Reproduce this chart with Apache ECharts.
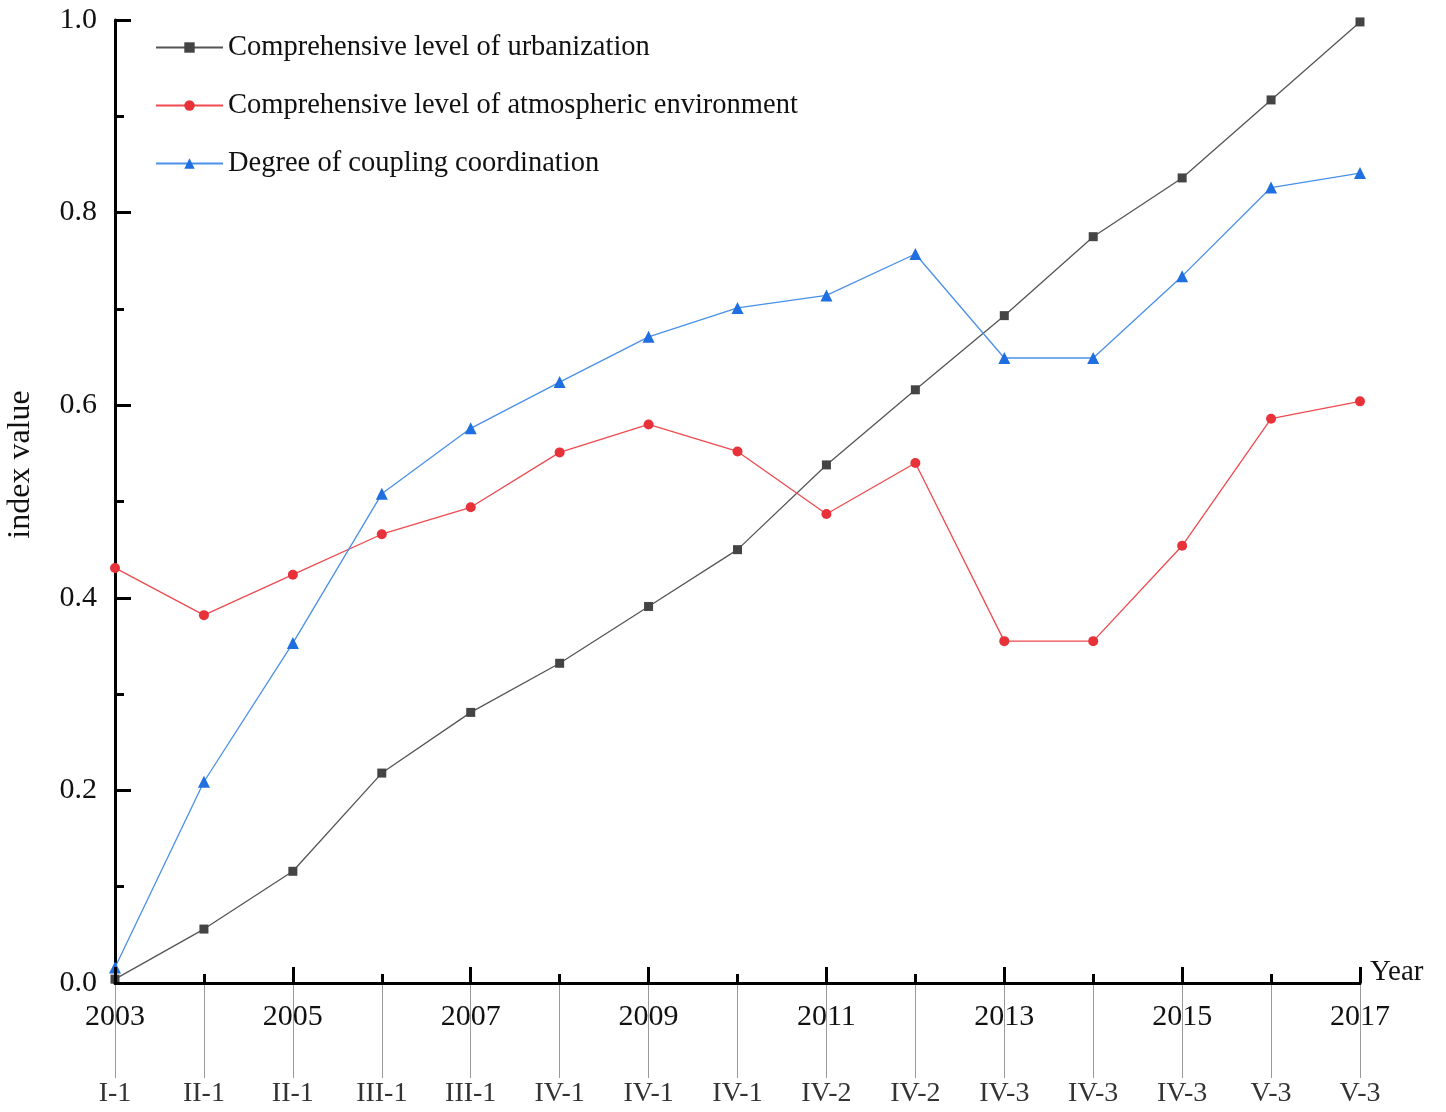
<!DOCTYPE html>
<html>
<head>
<meta charset="utf-8">
<script src="https://cdn.jsdelivr.net/npm/echarts@6/dist/echarts.min.js"></script>
<style>
  html, body { margin: 0; padding: 0; background: #fff; }
  #chart { width: 1446px; height: 1112px; }
</style>
</head>
<body>
<div id="chart"></div>
<script>
// Years on the horizontal axis and the stage code for each year
const years = ['2003','2004','2005','2006','2007','2008','2009','2010','2011','2012','2013','2014','2015','2016','2017'];
const stages = ['I-1','II-1','II-1','III-1','III-1','IV-1','IV-1','IV-1','IV-2','IV-2','IV-3','IV-3','IV-3','V-3','V-3'];

// Index values per year
const urbanization = [0.004, 0.056, 0.116, 0.218, 0.281, 0.332, 0.391, 0.450, 0.538, 0.616, 0.693, 0.775, 0.836, 0.917, 0.998];
const atmosphere   = [0.431, 0.382, 0.424, 0.466, 0.494, 0.551, 0.580, 0.552, 0.487, 0.540, 0.355, 0.355, 0.454, 0.586, 0.604];
const coupling     = [0.016, 0.209, 0.353, 0.508, 0.576, 0.624, 0.671, 0.701, 0.714, 0.757, 0.649, 0.649, 0.734, 0.826, 0.841];

const seriesNames = [
  'Comprehensive level of urbanization',
  'Comprehensive level of atmospheric environment',
  'Degree of coupling coordination'
];

const FONT = '"Liberation Serif", "Times New Roman", serif';

const chart = echarts.init(document.getElementById('chart'), null, { renderer: 'canvas' });

chart.setOption({
  backgroundColor: '#ffffff',
  animation: false,
  grid: { left: 115, right: 86, top: 20, bottom: 129, containLabel: false, outerBoundsMode: 'none' },
  legend: {
    orient: 'vertical',
    left: 150,
    top: 28,
    itemWidth: 67,
    itemHeight: 13,
    itemGap: 29,
    data: seriesNames,
    textStyle: { fontFamily: FONT, fontSize: 28.5, color: '#111' }
  },
  xAxis: [
    {
      // year axis: labelled major ticks on odd years
      type: 'category',
      position: 'bottom',
      data: years,
      boundaryGap: false,
      axisLine: { show: true, lineStyle: { color: '#000', width: 3 } },
      axisTick: {
        show: true, inside: true, length: 16,
        interval: function (i) { return i % 2 === 0; },
        lineStyle: { color: '#000', width: 3 }
      },
      axisLabel: {
        interval: function (i) { return i % 2 === 0; },
        margin: 19,
        fontFamily: FONT, fontSize: 30, color: '#111'
      },
      splitLine: { show: false },
      name: 'Year',
      nameLocation: 'end',
      nameGap: 10,
      nameTextStyle: { fontFamily: FONT, fontSize: 29, color: '#111', verticalAlign: 'bottom', lineHeight: 22 },
      z: 5
    },
    {
      // short ticks on every year
      type: 'category',
      position: 'bottom',
      data: years,
      boundaryGap: false,
      axisLine: { show: false },
      axisTick: { show: true, inside: true, length: 9, interval: 0, lineStyle: { color: '#000', width: 3 } },
      axisLabel: { show: false },
      splitLine: { show: false }
    },
    {
      // stage codes hanging below the years
      type: 'category',
      position: 'bottom',
      data: stages,
      boundaryGap: false,
      axisLine: { show: false },
      axisTick: { show: true, inside: false, length: 95, interval: 0, lineStyle: { color: '#9a9a9a', width: 1 } },
      axisLabel: { interval: 0, margin: 97, fontFamily: FONT, fontSize: 28, color: '#333' },
      splitLine: { show: false }
    }
  ],
  yAxis: {
    type: 'value',
    min: 0,
    max: 1,
    interval: 0.2,
    axisLine: { show: true, lineStyle: { color: '#000', width: 3 } },
    axisTick: { show: true, inside: true, length: 16, lineStyle: { color: '#000', width: 3 } },
    minorTick: { show: true, splitNumber: 2, length: 9, lineStyle: { color: '#000', width: 3 } },
    splitLine: { show: false },
    axisLabel: {
      margin: 18,
      formatter: function (v) { return v.toFixed(1); },
      fontFamily: FONT, fontSize: 30, color: '#111'
    },
    name: 'index value',
    nameLocation: 'middle',
    nameGap: 78,
    nameRotate: 90,
    nameTextStyle: { fontFamily: FONT, fontSize: 32, color: '#111', padding: [0, 0, 0, 74] }
  },
  series: [
    {
      name: seriesNames[0],
      type: 'line',
      data: urbanization,
      xAxisIndex: 0,
      symbol: 'rect',
      symbolSize: 9,
      clip: false,
      lineStyle: { color: '#555', width: 1.3 },
      itemStyle: { color: '#444' },
      z: 3
    },
    {
      name: seriesNames[1],
      type: 'line',
      data: atmosphere,
      xAxisIndex: 0,
      symbol: 'circle',
      symbolSize: 10,
      clip: false,
      lineStyle: { color: '#ee4a4f', width: 1.3 },
      itemStyle: { color: '#e8323a' },
      z: 3
    },
    {
      name: seriesNames[2],
      type: 'line',
      data: coupling,
      xAxisIndex: 0,
      symbol: 'triangle',
      symbolSize: 12,
      clip: false,
      lineStyle: { color: '#4a90e8', width: 1.3 },
      itemStyle: { color: '#1f6fe0' },
      z: 3
    }
  ]
});
</script>
</body>
</html>
